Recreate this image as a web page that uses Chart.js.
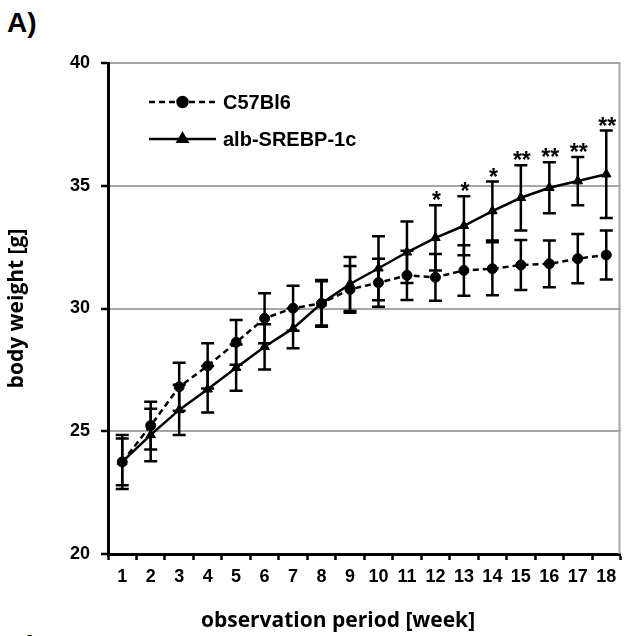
<!DOCTYPE html>
<html lang="en">
<head>
    <meta charset="UTF-8">
    <title>Body weight</title>
    <script src="https://cdn.jsdelivr.net/npm/chart.js@4.4.1/dist/chart.umd.min.js"></script>
    <style>
        * {
            margin: 0;
            padding: 0;
            box-sizing: border-box;
        }

        body {
            width: 627px;
            height: 636px;
            overflow: hidden;
            background: #fff;
            position: relative;
            font-family: 'Liberation Sans', Arial, sans-serif;
        }

        .panel-label {
            position: absolute;
            left: 7px;
            font-size: 28px;
            font-weight: bold;
            color: #000;
            line-height: 1;
        }

        #chart {
            position: absolute;
            left: 0;
            top: 0;
        }
    </style>
</head>
<body>
    <div class="panel-label" style="top: 9px;">A)</div>
    <div class="panel-label" style="top: 632px;">B)</div>
    <canvas id="chart" width="627" height="636"></canvas>

    <script>
        // values
        const weeks = ['1', '2', '3', '4', '5', '6', '7', '8', '9', '10', '11', '12', '13', '14', '15', '16', '17', '18'];

        const c57Mean = [23.75, 25.23, 26.81, 27.66, 28.62, 29.60, 30.01, 30.21, 30.78, 31.05, 31.35, 31.27, 31.55, 31.62, 31.77, 31.82, 32.03, 32.18];
        const c57Sd = [1.10, 0.97, 0.98, 0.92, 0.91, 1.02, 0.92, 0.90, 0.95, 0.98, 1.00, 0.95, 1.03, 1.08, 1.02, 0.95, 1.00, 1.00];

        const srebpMean = [23.75, 24.85, 25.87, 26.71, 27.59, 28.44, 29.19, 30.21, 31.00, 31.64, 32.29, 32.88, 33.37, 33.97, 34.51, 34.92, 35.19, 35.47];
        const srebpSd = [0.95, 1.07, 1.02, 0.95, 0.94, 0.92, 0.81, 0.95, 1.10, 1.30, 1.25, 1.33, 1.20, 1.20, 1.33, 1.04, 0.98, 1.78];

        // significance marks above alb-SREBP-1c
        const sigMarks = ['', '', '', '', '', '', '', '', '', '', '', '*', '*', '*', '**', '**', '**', '**'];

        const yTicks = [20, 25, 30, 35, 40];

        const seriesNames = ['C57Bl6', 'alb-SREBP-1c'];
        const sdLists = [c57Sd, srebpSd];
        const xTitle = 'observation period [week]';

        const gridGray = '#a6a6a6';

        // error bars + asterisks
        const errorBars = {
            id: 'errorBars',
            afterDatasetsDraw(chart) {
                const ctx = chart.ctx;
                const x = chart.scales.x;
                const y = chart.scales.y;
                ctx.save();
                ctx.strokeStyle = '#000';
                ctx.lineWidth = 2.5;
                chart.data.datasets.forEach((ds, di) => {
                    const sd = sdLists[di];
                    ds.data.forEach((v, i) => {
                        const px = x.getPixelForValue(i);
                        const top = y.getPixelForValue(v + sd[i]);
                        const bot = y.getPixelForValue(v - sd[i]);
                        ctx.beginPath();
                        ctx.moveTo(px, top);
                        ctx.lineTo(px, bot);
                        ctx.moveTo(px - 6.5, top);
                        ctx.lineTo(px + 6.5, top);
                        ctx.moveTo(px - 6.5, bot);
                        ctx.lineTo(px + 6.5, bot);
                        ctx.stroke();
                    });
                });

                ctx.fillStyle = '#000';
                ctx.font = 'bold 23px "Liberation Sans", Arial, sans-serif';
                ctx.textAlign = 'center';
                ctx.textBaseline = 'alphabetic';
                sigMarks.forEach((m, i) => {
                    if (!m) return;
                    const px = x.getPixelForValue(i);
                    const top = y.getPixelForValue(srebpMean[i] + srebpSd[i]);
                    ctx.fillText(m, px + 1, top + 3);
                });
                ctx.restore();
            }
        };

        // plot frame on the right, legend inside plot, x title
        const frameAndLegend = {
            id: 'frameAndLegend',
            beforeDatasetsDraw(chart) {
                const a = chart.chartArea;
                const ctx = chart.ctx;
                ctx.save();
                ctx.strokeStyle = gridGray;
                ctx.lineWidth = 2;
                ctx.beginPath();
                ctx.moveTo(a.right - 1, a.top);
                ctx.lineTo(a.right - 1, a.bottom);
                ctx.stroke();
                ctx.restore();
            },
            afterDraw(chart) {
                const a = chart.chartArea;
                const ctx = chart.ctx;
                ctx.save();
                chart.data.datasets.forEach((ds, i) => {
                    const yy = a.top + 39 + i * 37;
                    const x0 = a.left + 41;
                    const x1 = a.left + 108;
                    const xm = (x0 + x1) / 2;
                    ctx.strokeStyle = '#000';
                    ctx.lineWidth = ds.borderWidth;
                    ctx.setLineDash(ds.borderDash || []);
                    ctx.beginPath();
                    ctx.moveTo(x0, yy);
                    ctx.lineTo(x1, yy);
                    ctx.stroke();
                    ctx.setLineDash([]);
                    Chart.helpers.drawPoint(ctx, {
                        pointStyle: ds.pointStyle,
                        radius: ds.pointRadius,
                        rotation: 0,
                        borderWidth: 1
                    }, xm, yy);
                    ctx.fillStyle = '#000';
                    ctx.fill();
                    ctx.font = 'bold 20px "Liberation Sans", Arial, sans-serif';
                    ctx.textAlign = 'left';
                    ctx.textBaseline = 'middle';
                    ctx.fillText(seriesNames[i], x1 + 7, yy + 1);
                });

                // x axis title sits left of the plot centre in the original
                ctx.fillStyle = '#000';
                ctx.font = 'bold 21px "Open Sans", sans-serif';
                ctx.textAlign = 'center';
                ctx.textBaseline = 'middle';
                ctx.fillText(xTitle, 338, 621);
                ctx.restore();
            }
        };

        const tickFont = { family: '"Liberation Sans", Arial, sans-serif', size: 18, weight: 'bold' };
        const titleFont = { family: '"Open Sans", sans-serif', size: 21, weight: 'bold' };

        new Chart(document.getElementById('chart'), {
            type: 'line',
            data: {
                labels: weeks,
                datasets: [{
                    label: seriesNames[0],
                    data: c57Mean,
                    borderColor: '#000',
                    backgroundColor: '#000',
                    borderWidth: 2.5,
                    borderDash: [6, 4],
                    pointStyle: 'circle',
                    pointRadius: 5,
                    pointBorderWidth: 1,
                    tension: 0
                }, {
                    label: seriesNames[1],
                    data: srebpMean,
                    borderColor: '#000',
                    backgroundColor: '#000',
                    borderWidth: 2.5,
                    pointStyle: 'triangle',
                    pointRadius: 5.5,
                    pointBorderWidth: 1,
                    tension: 0
                }]
            },
            options: {
                responsive: false,
                animation: false,
                devicePixelRatio: 1,
                layout: {
                    padding: { top: 63, right: 3, left: 0, bottom: 0 }
                },
                plugins: {
                    legend: { display: false },
                    tooltip: { enabled: false }
                },
                scales: {
                    x: {
                        offset: true,
                        afterFit(scale) { scale.height = 82; },
                        grid: {
                            offset: true,
                            drawOnChartArea: false,
                            drawTicks: true,
                            tickLength: 6,
                            tickColor: '#000',
                            tickWidth: 2.5
                        },
                        border: { color: '#000', width: 3 },
                        ticks: {
                            color: '#000',
                            font: tickFont,
                            padding: 6,
                            maxRotation: 0,
                            autoSkip: false
                        }
                    },
                    y: {
                        min: 20,
                        max: 40,
                        afterFit(scale) { scale.width = 108; },
                        afterBuildTicks(scale) {
                            scale.ticks = yTicks.map(v => ({ value: v }));
                        },
                        grid: {
                            color: c => c.tick && c.tick.value === 20 ? 'rgba(0,0,0,0)' : gridGray,
                            lineWidth: 2,
                            tickColor: '#000',
                            tickWidth: 2.5,
                            tickLength: 7
                        },
                        border: { color: '#000', width: 3 },
                        ticks: {
                            color: '#000',
                            font: tickFont,
                            padding: 11
                        },
                        title: {
                            display: true,
                            text: 'body weight [g]',
                            color: '#000',
                            font: titleFont,
                            padding: { top: 4, bottom: 2 }
                        }
                    }
                }
            },
            plugins: [errorBars, frameAndLegend]
        });
    </script>
</body>
</html>
